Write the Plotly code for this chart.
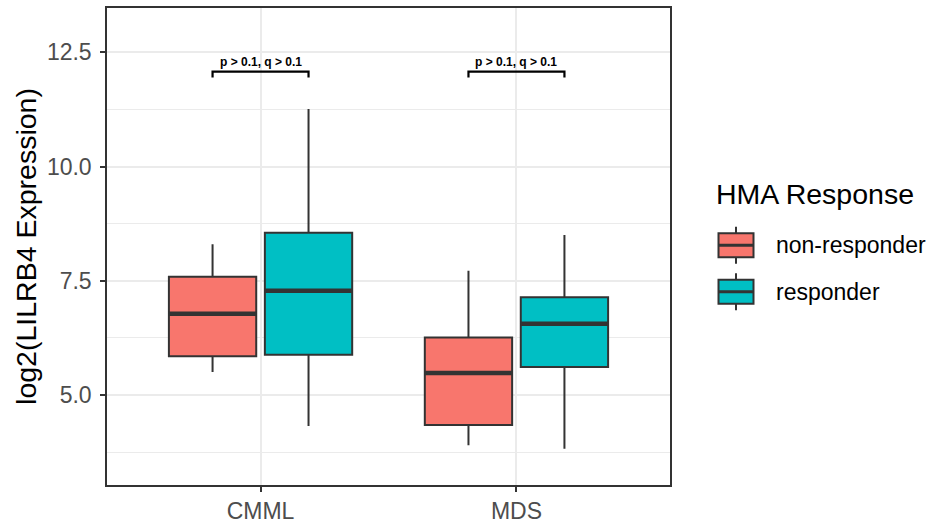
import plotly.graph_objects as go

# ---- data ----
categories = ["CMML", "MDS"]
groups = ["non-responder", "responder"]
group_colors = ["#F8766D", "#00BFC4"]

lower_whisker = {"non-responder": [5.50, 3.90], "responder": [4.32, 3.82]}
q1_vals = {"non-responder": [5.85, 4.34], "responder": [5.88, 5.61]}
median_vals = {"non-responder": [6.78, 5.48], "responder": [7.28, 6.56]}
q3_vals = {"non-responder": [7.59, 6.26], "responder": [8.55, 7.14]}
upper_whisker = {"non-responder": [8.30, 7.72], "responder": [11.26, 8.50]}

sig_labels = ["p > 0.1, q > 0.1", "p > 0.1, q > 0.1"]
bracket_y = [12.08, 12.08]
bracket_tip = 0.13

y_title = "log2(LILRB4 Expression)"
legend_title = "HMA Response"
y_ticks = [5.0, 7.5, 10.0, 12.5]

# ---- style ----
FONT = "Liberation Sans, Arial, sans-serif"
OUTLINE = "#333333"
BOXGAP = 0.25
BOXGROUPGAP = 0.09
slot = (1 - BOXGAP) / len(groups)
half_w = slot * (1 - BOXGROUPGAP) / 2

fig = go.Figure()
for j, g in enumerate(groups):
    fig.add_trace(go.Box(
        x=categories,
        q1=q1_vals[g], median=median_vals[g], q3=q3_vals[g],
        lowerfence=lower_whisker[g], upperfence=upper_whisker[g],
        name=g, fillcolor=group_colors[j],
        line=dict(color=OUTLINE, width=2),
        whiskerwidth=0, boxpoints=False, showlegend=False,
    ))

shapes = []
annotations = []
# thick median lines (ggplot fatten)
for j, g in enumerate(groups):
    off = (j - (len(groups) - 1) / 2) * slot
    for i, m in enumerate(median_vals[g]):
        shapes.append(dict(type="line", xref="x", yref="y",
                           x0=i + off - half_w, x1=i + off + half_w, y0=m, y1=m,
                           line=dict(color=OUTLINE, width=4.5)))

# significance brackets
for i, (lab, by) in enumerate(zip(sig_labels, bracket_y)):
    xl = i - slot / 2
    xr = i + slot / 2
    yb = by - bracket_tip
    shapes.append(dict(type="path", xref="x", yref="y",
                       path=f"M {xl},{yb} L {xl},{by} L {xr},{by} L {xr},{yb}",
                       line=dict(color="black", width=2.2)))
    annotations.append(dict(x=i, y=by, xref="x", yref="y", text=f"<b>{lab}</b>",
                            showarrow=False, yanchor="bottom", yshift=1,
                            font=dict(family=FONT, size=12, color="black")))

# manual ggplot-style legend (pixel positions converted to paper coords below)
annotations.append(dict(x=714, y=194, xref=None, text=legend_title,
                        showarrow=False, xanchor="left", yanchor="middle",
                        font=dict(family=FONT, size=28.5, color="black")))
key_centers = [245.3, 291.7]
for j, g in enumerate(groups):
    cy = key_centers[j]
    annotations.append(dict(x=774, y=cy, xref=None, text=g, showarrow=False,
                            xanchor="left", yanchor="middle",
                            font=dict(family=FONT, size=23, color="black")))
    shapes.append(dict(type="line", x0=736, x1=736, y0=cy - 18.5, y1=cy + 18.5,
                       line=dict(color=OUTLINE, width=2)))
    shapes.append(dict(type="rect", x0=718.5, x1=753.5, y0=cy - 12, y1=cy + 12,
                       fillcolor=group_colors[j], line=dict(color=OUTLINE, width=2)))
    shapes.append(dict(type="line", x0=718.5, x1=753.5, y0=cy, y1=cy,
                       line=dict(color=OUTLINE, width=3)))

W, H = 936, 525
ML, MR, MT, MB = 107, 266, 8, 40
pw, ph = W - ML - MR, H - MT - MB
for s in shapes:
    if s.get("xref") is None:
        s["xref"] = "paper"; s["yref"] = "paper"
        s["x0"] = (s["x0"] - ML) / pw; s["x1"] = (s["x1"] - ML) / pw
        s["y0"], s["y1"] = (H - MB - s["y0"]) / ph, (H - MB - s["y1"]) / ph
for a in annotations:
    if a.get("xref") is None:
        a["xref"] = "paper"; a["yref"] = "paper"
        a["x"] = (a["x"] - ML) / pw
        a["y"] = (H - MB - a["y"]) / ph

fig.update_layout(
    width=W, height=H,
    margin=dict(l=ML, r=MR, t=MT, b=MB, pad=0, autoexpand=False),
    paper_bgcolor="white", plot_bgcolor="white",
    boxmode="group", boxgap=BOXGAP, boxgroupgap=BOXGROUPGAP,
    showlegend=False,
    shapes=shapes, annotations=annotations,
    font=dict(family=FONT),
)
fig.update_xaxes(
    type="category", categoryorder="array", categoryarray=categories,
    range=[-0.6, len(categories) - 0.4],
    showgrid=True, gridcolor="#EBEBEB", gridwidth=1.5,
    showline=True, linecolor=OUTLINE, linewidth=1.5, mirror=True,
    ticks="outside", ticklen=5, tickcolor=OUTLINE, tickwidth=1.5,
    tickfont=dict(family=FONT, size=23, color="#4D4D4D"),
    zeroline=False, automargin=False,
)
fig.update_yaxes(
    range=[3.028, 13.473],
    tickvals=y_ticks, ticktext=[f"{v:.1f}" for v in y_ticks],
    showgrid=True, gridcolor="#EBEBEB", gridwidth=1.5,
    minor=dict(tickvals=[3.75, 6.25, 8.75, 11.25], showgrid=True,
               gridcolor="#EBEBEB", gridwidth=0.8, ticks=""),
    showline=True, linecolor=OUTLINE, linewidth=1.5, mirror=True,
    ticks="outside", ticklen=5, tickcolor=OUTLINE, tickwidth=1.5,
    ticklabelstandoff=4,
    tickfont=dict(family=FONT, size=23, color="#4D4D4D"),
    title=dict(text=y_title, font=dict(family=FONT, size=28.5, color="black"),
               standoff=2),
    zeroline=False, automargin=False,
)

fig.write_html("out.html",
               config={"displayModeBar": False},
               post_script="document.body.style.margin='0';document.body.style.overflow='hidden';")
